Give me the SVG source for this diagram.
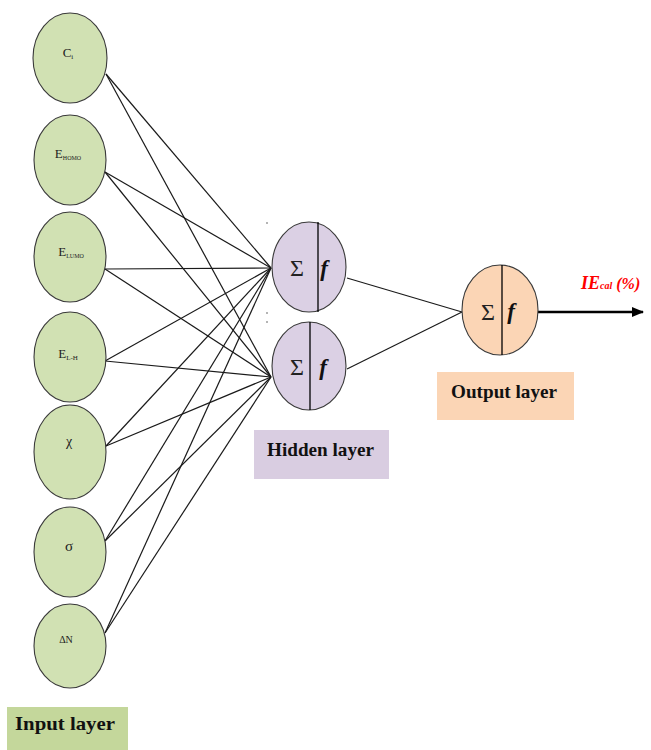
<svg xmlns="http://www.w3.org/2000/svg" width="651" height="750" viewBox="0 0 651 750">
<style>
.in{fill:#d1e1b3;stroke:#3a3a3a;stroke-width:1.1}
.hid{fill:#dbd0e4;stroke:#3a3a3a;stroke-width:1.1}
.out{fill:#fbd5b5;stroke:#3a3a3a;stroke-width:1.1}
.div{stroke:#000;stroke-width:1.3}
.lbl{font-family:"Liberation Serif",serif;fill:#222;text-anchor:middle}
.sig{font-family:"Liberation Serif",serif;font-size:24px;fill:#222;text-anchor:middle}
.fn{font-family:"Liberation Serif",serif;font-size:23px;font-style:italic;font-weight:bold;fill:#111;text-anchor:middle}
.cap{font-family:"Liberation Serif",serif;font-size:19px;font-weight:bold;fill:#111}
#connectors line{stroke:#1a1a1a;stroke-width:1.2}
</style>
<defs>
<marker id="ah" markerWidth="12" markerHeight="10" refX="11" refY="5" orient="auto" markerUnits="userSpaceOnUse">
<path d="M0,0 L12,5 L0,10 Z" fill="#000"/>
</marker>
</defs>
<rect width="651" height="750" fill="#fff"/>
<g id="connectors">
<line x1="106" y1="74" x2="271" y2="268"/>
<line x1="106" y1="74" x2="271" y2="377"/>
<line x1="105" y1="172" x2="271" y2="268"/>
<line x1="105" y1="172" x2="271" y2="377"/>
<line x1="105" y1="269" x2="271" y2="268"/>
<line x1="105" y1="269" x2="271" y2="377"/>
<line x1="105" y1="361" x2="271" y2="268"/>
<line x1="105" y1="361" x2="271" y2="377"/>
<line x1="106" y1="446" x2="271" y2="268"/>
<line x1="106" y1="446" x2="271" y2="377"/>
<line x1="105" y1="541" x2="271" y2="268"/>
<line x1="105" y1="541" x2="271" y2="377"/>
<line x1="105" y1="633" x2="271" y2="268"/>
<line x1="105" y1="633" x2="271" y2="377"/>
<line x1="347" y1="278" x2="462" y2="312"/>
<line x1="347" y1="369" x2="462" y2="312"/>
<line x1="538" y1="312" x2="643" y2="312" style="stroke:#000;stroke-width:2.6" marker-end="url(#ah)"/>
</g>
<g id="in1"><ellipse class="in" cx="70" cy="58" rx="37" ry="45"/><text class="lbl" x="68" y="57" font-size="13">C<tspan font-size="7" dy="2">i</tspan></text></g>
<g id="in2"><ellipse class="in" cx="70" cy="160" rx="36" ry="45"/><text class="lbl" x="68" y="158" font-size="13">E<tspan font-size="6" dy="2">HOMO</tspan></text></g>
<g id="in3"><ellipse class="in" cx="70" cy="257" rx="36" ry="45"/><text class="lbl" x="71" y="256" font-size="13">E<tspan font-size="6" dy="2">LUMO</tspan></text></g>
<g id="in4"><ellipse class="in" cx="70" cy="357" rx="36" ry="45"/><text class="lbl" x="68" y="358" font-size="13">E<tspan font-size="7" dy="2">L-H</tspan></text></g>
<g id="in5"><ellipse class="in" cx="70" cy="452" rx="36" ry="47"/><text class="lbl" x="69" y="446" font-size="14">χ</text></g>
<g id="in6"><ellipse class="in" cx="70" cy="552" rx="36" ry="45"/><text class="lbl" x="69" y="551" font-size="15">σ</text></g>
<g id="in7"><ellipse class="in" cx="70" cy="646" rx="36" ry="42"/><text class="lbl" x="66" y="643" font-size="10">ΔN</text></g>
<g id="h1"><ellipse class="hid" cx="309" cy="267" rx="37" ry="45"/><line class="div" x1="318" y1="222" x2="318" y2="312"/><text class="sig" x="297" y="276">Σ</text><text class="fn" x="324" y="276">f</text></g>
<g id="h2"><ellipse class="hid" cx="309" cy="366" rx="37" ry="44"/><line class="div" x1="310" y1="322" x2="310" y2="410"/><text class="sig" x="297" y="375">Σ</text><text class="fn" x="323" y="375">f</text></g>
<g id="dots" fill="#555"><circle cx="267" cy="223" r="0.8"/><circle cx="267" cy="313" r="0.8"/><circle cx="267" cy="322" r="0.8"/></g>
<g id="out"><ellipse class="out" cx="500" cy="310" rx="38" ry="45"/><line class="div" x1="502" y1="265" x2="502" y2="355"/><text class="sig" x="488" y="320">Σ</text><text class="fn" x="511" y="319">f</text></g>
<g id="outlabel"><text x="581" y="289" font-family="Liberation Serif,serif" font-weight="bold" font-style="italic" fill="#ff0000" font-size="18">IE<tspan font-size="10">cal</tspan><tspan font-size="16"> (%)</tspan></text></g>
<g id="input-layer"><rect x="7" y="707" width="121" height="43" fill="#c4d79b"/><text class="cap" x="15" y="730" textLength="100" lengthAdjust="spacingAndGlyphs">Input layer</text></g>
<g id="hidden-layer"><rect x="254" y="430" width="135" height="49" fill="#d9cde1"/><text class="cap" x="267" y="456" textLength="107" lengthAdjust="spacingAndGlyphs">Hidden layer</text></g>
<g id="output-layer"><rect x="437" y="372" width="137" height="48" fill="#fbd5b5"/><text class="cap" x="451" y="398" textLength="106" lengthAdjust="spacingAndGlyphs">Output layer</text></g>
</svg>
